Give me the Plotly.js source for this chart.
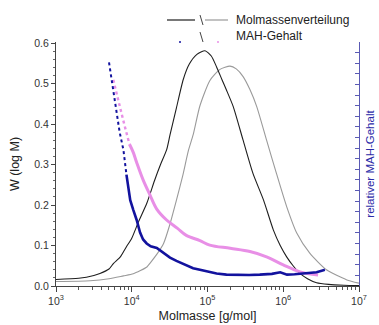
<!DOCTYPE html>
<html>
<head>
<meta charset="utf-8">
<script src="https://cdn.plot.ly/plotly-3.0.1.min.js"></script>
<style>html,body{margin:0;padding:0;background:#fff;}#chart{width:379px;height:325px;}</style>
</head>
<body>
<div id="chart"></div>
<script>
// Molmassenverteilung, Probe 1 (schwarz): log10(M) and W(log M)
const blackLogM = [3.0,3.3,3.5,3.58,3.7,3.76,3.85,3.93,4.0,4.09,4.2,4.3,4.38,4.46,4.505,4.59,4.68,4.76,4.86,4.967,5.05,5.12,5.19,5.25,5.34,5.47,5.6,5.74,5.87,5.96,6.045,6.13,6.22,6.32,6.44,6.6,6.8,7.0];
const blackW    = [0.016,0.019,0.026,0.031,0.042,0.056,0.072,0.097,0.118,0.159,0.205,0.26,0.3,0.336,0.373,0.44,0.51,0.548,0.572,0.581,0.568,0.541,0.51,0.484,0.443,0.36,0.278,0.212,0.138,0.1,0.072,0.05,0.031,0.018,0.008,0.004,0.002,0.001];
// Molmassenverteilung, Probe 2 (grau)
const grayLogM = [3.0,3.45,3.7,3.89,4.02,4.2,4.24,4.33,4.42,4.5,4.59,4.67,4.75,4.81,4.9,5.03,5.165,5.297,5.38,5.47,5.56,5.65,5.78,5.91,6.045,6.18,6.35,6.57,6.84,7.0];
const grayW    = [0.011,0.013,0.018,0.025,0.03,0.047,0.056,0.078,0.105,0.15,0.212,0.27,0.336,0.373,0.445,0.507,0.535,0.543,0.536,0.517,0.485,0.443,0.36,0.278,0.196,0.13,0.081,0.04,0.015,0.007];
// MAH-Gehalt, Probe 1 (blau)
const blueLogMDot = [3.70,3.74,3.78,3.84,3.89,3.93];
const blueWDot    = [0.552,0.505,0.459,0.38,0.336,0.275];
const blueLogM = [3.93,3.98,4.02,4.065,4.11,4.15,4.197,4.25,4.33,4.37,4.45,4.505,4.59,4.7,4.81,4.9,5.0,5.12,5.25,5.385,5.55,5.69,5.85,5.96,6.05,6.15,6.26,6.35,6.44,6.53,6.55];
const blueW    = [0.275,0.212,0.188,0.163,0.132,0.115,0.105,0.098,0.094,0.089,0.078,0.07,0.062,0.052,0.044,0.04,0.036,0.031,0.028,0.027,0.027,0.028,0.03,0.034,0.028,0.029,0.031,0.031,0.034,0.039,0.04];
// MAH-Gehalt, Probe 2 (violett)
const pinkLogMDot = [3.756,3.82,3.9,3.97];
const pinkWDot    = [0.509,0.459,0.40,0.35];
const pinkLogM = [3.97,4.02,4.065,4.15,4.24,4.33,4.46,4.6,4.72,4.9,5.03,5.3,5.56,5.78,6.0,6.22,6.46];
const pinkW    = [0.35,0.33,0.305,0.262,0.225,0.19,0.163,0.143,0.125,0.112,0.101,0.093,0.085,0.072,0.052,0.035,0.027];

const xTickVals = [1e3,1e4,1e5,1e6,1e7];
const xTickText = ["10<sup>3</sup>","10<sup>4</sup>","10<sup>5</sup>","10<sup>6</sup>","10<sup>7</sup>"];
const legendTexts = ["Molmassenverteilung","MAH-Gehalt"];
const xTitle = "Molmasse [g/mol]";
const yTitle = "W (log M)";
const y2Title = "relativer MAH-Gehalt";

const toM = a => a.map(v => Math.pow(10, v));
const BLUE = "#12129e", PINK = "#e88fe6", GRAY = "#9a9a9a", BLACK = "#1e1e1e", AXBLUE = "#5a5ab4";

const traces = [
  {x: toM(grayLogM), y: grayW, mode: "lines", line: {color: GRAY, width: 1.1, shape: "spline", smoothing: 0.6}, hoverinfo: "skip"},
  {x: toM(blackLogM), y: blackW, mode: "lines", line: {color: BLACK, width: 1.1, shape: "spline", smoothing: 0.6}, hoverinfo: "skip"},
  {x: toM(pinkLogMDot), y: pinkWDot, mode: "lines", line: {color: PINK, width: 2.4, dash: "dot"}, hoverinfo: "skip"},
  {x: toM(pinkLogM), y: pinkW, mode: "lines", line: {color: PINK, width: 3, shape: "spline"}, hoverinfo: "skip"},
  {x: toM(blueLogMDot), y: blueWDot, mode: "lines", line: {color: BLUE, width: 2, dash: "dot"}, hoverinfo: "skip"},
  {x: toM(blueLogM), y: blueW, mode: "lines", line: {color: BLUE, width: 2.6}, hoverinfo: "skip"},
  {x: [1e3], y: [null], yaxis: "y2", mode: "lines", hoverinfo: "skip"}
];

const FONT = "Liberation Sans, Arial, sans-serif";
const px = x => (x - 56) / 303;
const py = y => (286 - y) / 244;

const layout = {
  width: 379, height: 325,
  margin: {l: 56, r: 20, t: 42, b: 39},
  paper_bgcolor: "#fff", plot_bgcolor: "#fff",
  showlegend: false,
  font: {family: FONT, size: 10, color: "#333"},
  xaxis: {
    type: "log", range: [3, 7], tickvals: xTickVals, ticktext: xTickText,
    ticks: "outside", ticklen: 5, tickcolor: "#444", showline: true, linecolor: "#444", linewidth: 1,
    showgrid: false, zeroline: false, tickfont: {size: 10.5, color: "#333"},
    minor: {ticks: "outside", ticklen: 3, tickcolor: "#555", dtick: "D1", showgrid: false},
    title: {text: xTitle, font: {size: 12.5, color: "#222"}, standoff: 5}
  },
  yaxis: {
    range: [0, 0.6025], dtick: 0.1, tickformat: ".1f",
    ticks: "outside", ticklen: 4, tickcolor: "#444", showline: true, linecolor: "#444", linewidth: 1,
    showgrid: false, zeroline: false, tickfont: {size: 10.5, color: "#333"},
    minor: {ticks: "outside", ticklen: 2, tickcolor: "#666", dtick: 0.02, showgrid: false},
    title: {text: yTitle, font: {size: 12.5, color: "#222"}, standoff: 11}
  },
  yaxis2: {
    overlaying: "y", side: "right", anchor: "x", range: [0, 23], dtick: 1,
    ticks: "inside", ticklen: 4, tickcolor: AXBLUE, showticklabels: false,
    showline: true, linecolor: AXBLUE, linewidth: 1.2, showgrid: false, zeroline: false,
    title: {text: y2Title, font: {size: 11.5, color: "#2b2ba8"}, standoff: 6}
  },
  shapes: [
    {type: "line", xref: "paper", yref: "paper", x0: px(167), x1: px(195), y0: py(20), y1: py(20), line: {color: BLACK, width: 1.2}},
    {type: "line", xref: "paper", yref: "paper", x0: px(200), x1: px(203), y0: py(15), y1: py(25), line: {color: "#444", width: 1}},
    {type: "line", xref: "paper", yref: "paper", x0: px(205), x1: px(228), y0: py(20), y1: py(20), line: {color: GRAY, width: 1.2}},
    {type: "circle", xref: "paper", yref: "paper", x0: px(179), x1: px(181), y0: py(43), y1: py(41), fillcolor: BLUE, line: {width: 0}},
    {type: "line", xref: "paper", yref: "paper", x0: px(200), x1: px(203), y0: py(32), y1: py(42), line: {color: "#444", width: 1}},
    {type: "circle", xref: "paper", yref: "paper", x0: px(217), x1: px(219), y0: py(43), y1: py(41), fillcolor: PINK, line: {width: 0}}
  ],
  annotations: [
    {xref: "paper", yref: "paper", x: px(234), y: py(20), xanchor: "left", yanchor: "middle", text: legendTexts[0], showarrow: false, font: {size: 12, color: "#222"}},
    {xref: "paper", yref: "paper", x: px(234), y: py(36), xanchor: "left", yanchor: "middle", text: legendTexts[1], showarrow: false, font: {size: 12, color: "#222"}}
  ]
};

Plotly.newPlot("chart", traces, layout, {staticPlot: true, displayModeBar: false});
</script>
</body>
</html>
